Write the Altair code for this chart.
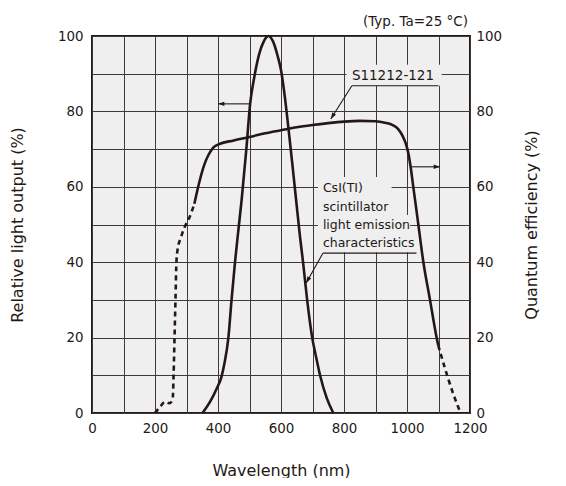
import altair as alt
import pandas as pd

INK = "#231815"
BG = "#efefef"
GRID = "#3e3a39"
FONT = "DejaVu Sans"

# CsI(Tl) scintillator light emission -> left axis (relative light output, %)
scint_nm = [351, 375, 396, 411, 420, 433, 443, 454, 464, 475, 490, 502, 515, 530, 545, 560,
            575, 590, 600, 612, 623, 636, 648, 660, 670, 683, 699, 711, 724, 745, 766]
scint_val = [0, 3, 6.5, 9.6, 13, 20, 30, 40, 48, 56.5, 70, 82, 89, 95, 98.5, 100,
             98.5, 94.5, 91, 84, 76, 66, 56.5, 47, 40, 30, 20, 15, 10, 4, 0]

# S11212-121 quantum efficiency -> right axis (%)
qe_nm = [325, 340, 355, 370, 385, 400, 450, 500, 550, 600, 650, 700, 750, 800, 850, 900,
         930, 956, 972, 986, 996, 1004, 1012, 1020, 1036, 1052, 1073, 1094, 1099]
qe_val = [55.5, 61, 65.5, 68.5, 70.4, 71.2, 72.3, 73.2, 74.2, 75, 75.8, 76.4, 76.9, 77.3, 77.5, 77.4,
          77, 76.3, 75.3, 73.5, 71.5, 69, 65, 60, 50, 40, 30, 20, 18]
qe_short_nm = [200, 215, 232, 245, 256, 259, 262, 265, 268, 272, 282, 295, 310, 325]
qe_short_val = [0, 1.5, 3, 2.6, 3.5, 10, 20, 30, 40, 43.5, 46.5, 49.5, 52, 55.5]
qe_long_nm = [1099, 1120, 1145, 1170]
qe_long_val = [18, 12, 5.5, 0]

x_ticks = list(range(0, 1201, 100))
y_ticks = list(range(0, 101, 10))

# annotation lines (arrows, underlines, leaders) in data units
ann_x1 = [500, 1010, 825, 825, 733, 733]
ann_x2 = [400, 1105, 1100, 758, 1030, 680]
ann_y1 = [82, 65.3, 86.8, 86.8, 42.4, 42.4]
ann_y2 = [82, 65.3, 86.8, 78, 42.4, 34.5]

# arrow heads
head_x = [400, 1105, 758, 680]
head_y = [82, 65.3, 78, 34.5]
head_angle = [270, 90, 212, 209]

# label backgrounds
bg_x1 = [808, 717, 717, 717, 717]
bg_x2 = [1110, 951, 944, 1010, 1022]
bg_y1 = [86.8, 57.3, 52.5, 47.5, 42.6]
bg_y2 = [92.4, 62.6, 57.3, 52.5, 47.5]

label_s = ["S11212-121"]
label_s_x = [825]
label_s_y = [89.3]
label_c = ["CsI(TI)", "scintillator", "light emission", "characteristics"]
label_c_x = [733, 733, 733, 733]
label_c_y = [59.6, 54.7, 49.9, 45.0]

note = ["(Typ. Ta=25 °C)"]
note_x = [1200]
note_y = [103.8]

xscale = alt.Scale(domain=[0, 1200], nice=False, zero=False)
yscale = alt.Scale(domain=[0, 100], nice=False, zero=False)

x_axis = alt.Axis(values=x_ticks, format="d",
                  labelExpr="datum.value % 200 === 0 ? datum.label : ''",
                  grid=True, gridColor=GRID, gridWidth=1, gridOpacity=1, ticks=False, domain=False,
                  labelFlush=False, labelOverlap=False, labelPadding=8, labelFontSize=13.4,
                  labelFont=FONT, labelColor=INK, title="Wavelength (nm)", titleFont=FONT,
                  titleFontSize=16, titleFontWeight="normal", titleColor=INK, titleX=189, titleY=57,
                  titleBaseline="middle", titleAlign="center")
y_left_axis = alt.Axis(orient="left", values=y_ticks, format="d",
                       labelExpr="datum.value % 20 === 0 ? datum.label : ''",
                       grid=True, gridColor=GRID, gridWidth=1, gridOpacity=1, ticks=False, domain=False,
                       labelFlush=False, labelOverlap=False, labelPadding=9, labelFontSize=13.4,
                       labelFont=FONT, labelColor=INK, title="Relative light output (%)", titleFont=FONT,
                       titleFontSize=16, titleFontWeight="normal", titleColor=INK, titleAngle=270,
                       titleX=-75, titleY=188.5, titleBaseline="middle", titleAlign="center")
y_right_axis = alt.Axis(orient="right", values=list(range(0, 101, 20)), format="d", grid=False,
                        ticks=False, domain=False, labelFlush=False, labelOverlap=False, labelPadding=6,
                        labelFontSize=13.4, labelFont=FONT, labelColor=INK,
                        title="Quantum efficiency (%)", titleFont=FONT, titleFontSize=16,
                        titleFontWeight="normal", titleColor=INK, titleAngle=270, titleX=61,
                        titleY=188.5, titleBaseline="middle", titleAlign="center")

scint_df = pd.DataFrame({"nm": scint_nm, "v": scint_val})
qe_df = pd.DataFrame({"nm": qe_nm, "v": qe_val})
qe_s_df = pd.DataFrame({"nm": qe_short_nm, "v": qe_short_val})
qe_l_df = pd.DataFrame({"nm": qe_long_nm, "v": qe_long_val})
ann_df = pd.DataFrame({"x1": ann_x1, "x2": ann_x2, "y1": ann_y1, "y2": ann_y2})
head_df = pd.DataFrame({"x": head_x, "y": head_y, "a": head_angle})
bg_df = pd.DataFrame({"x1": bg_x1, "x2": bg_x2, "y1": bg_y1, "y2": bg_y2})
ls_df = pd.DataFrame({"t": label_s, "x": label_s_x, "y": label_s_y})
lc_df = pd.DataFrame({"t": label_c, "x": label_c_x, "y": label_c_y})
note_df = pd.DataFrame({"t": note, "x": note_x, "y": note_y})


def X(f):
    return alt.X(f"{f}:Q", scale=xscale, axis=x_axis)


def YL(f):
    return alt.Y(f"{f}:Q", scale=yscale, axis=y_left_axis)


def YR(f):
    return alt.Y(f"{f}:Q", scale=yscale, axis=y_right_axis)


bg = alt.Chart(bg_df).mark_rect(fill=BG, strokeWidth=0).encode(
    x=X("x1"), x2="x2:Q", y=YL("y1"), y2="y2:Q")

scint = alt.Chart(scint_df).mark_line(color=INK, strokeWidth=2.6, interpolate="monotone").encode(
    x=X("nm"), y=YL("v"))

ann = alt.Chart(ann_df).mark_rule(color=INK, strokeWidth=1.1).encode(
    x=X("x1"), x2="x2:Q", y=YL("y1"), y2="y2:Q")

heads = alt.Chart(head_df).mark_point(shape="M0,0L-0.55,1.6L0.55,1.6Z", filled=True, size=64,
                                      color=INK, opacity=1, strokeWidth=0).encode(
    x=X("x"), y=YL("y"), angle=alt.Angle("a:Q", scale=None))

txt_s = alt.Chart(ls_df).mark_text(align="left", baseline="middle", font=FONT, fontSize=13.5,
                                   color=INK).encode(x=X("x"), y=YL("y"), text="t:N")
txt_c = alt.Chart(lc_df).mark_text(align="left", baseline="middle", font=FONT, fontSize=12.5,
                                   color=INK).encode(x=X("x"), y=YL("y"), text="t:N")
txt_n = alt.Chart(note_df).mark_text(align="right", baseline="middle", font=FONT, fontSize=13.5,
                                     color=INK, dx=-2).encode(x=X("x"), y=YL("y"), text="t:N")

left = alt.layer(bg, scint, ann, heads, txt_s, txt_c, txt_n)

qe = alt.Chart(qe_df).mark_line(color=INK, strokeWidth=2.6, interpolate="monotone").encode(
    x=X("nm"), y=YR("v"))
qe_s = alt.Chart(qe_s_df).mark_line(color=INK, strokeWidth=2.6, strokeDash=[5, 4],
                                    interpolate="monotone").encode(x=X("nm"), y=YR("v"))
qe_l = alt.Chart(qe_l_df).mark_line(color=INK, strokeWidth=2.6, strokeDash=[5, 4],
                                    interpolate="monotone").encode(x=X("nm"), y=YR("v"))
right = alt.layer(qe, qe_s, qe_l)

chart = alt.layer(left, right).resolve_scale(y="independent").properties(
    width=378, height=377,
    autosize=alt.AutoSizeParams(type="none"),
    padding={"left": 84, "top": 28, "right": 88, "bottom": 65},
    background="white",
).configure_view(fill=BG, stroke=INK, strokeWidth=2)

chart.save("out.html", embed_options={"renderer": "svg", "actions": False})
